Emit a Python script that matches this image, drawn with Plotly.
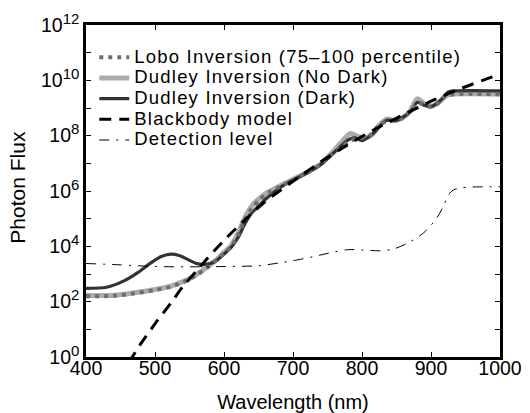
import numpy as np
import plotly.graph_objects as go

# ---- data (log10 of photon flux) ----
lobo_wl = [400, 440, 470, 500, 523, 545, 560, 575, 590, 600, 610, 620, 630, 640, 652, 665, 681,
           710, 739, 755, 768, 780, 790, 800, 812, 826, 835, 845, 858, 870, 882, 890, 900, 912,
           922, 932, 1000]
lobo_log = [2.20, 2.21, 2.30, 2.42, 2.54, 2.75, 2.96, 3.22, 3.52, 3.75, 3.98, 4.40, 4.95, 5.35,
            5.70, 5.95, 6.16, 6.52, 6.94, 7.30, 7.54, 7.76, 7.88, 7.92, 8.02, 8.42, 8.50, 8.55,
            8.62, 8.87, 9.20, 9.12, 9.05, 9.20, 9.45, 9.50, 9.50]

nodark_wl = [400, 440, 470, 500, 523, 545, 560, 575, 590, 600, 610, 620, 630, 640, 648, 660, 681,
             710, 739, 755, 770, 783, 795, 805, 815, 826, 836, 846, 858, 870, 880, 892, 900,
             912, 922, 932, 1000]
nodark_log = [2.22, 2.23, 2.32, 2.44, 2.56, 2.77, 2.98, 3.24, 3.54, 3.78, 4.02, 4.45, 5.02, 5.45,
              5.66, 5.90, 6.18, 6.54, 6.96, 7.34, 7.75, 8.08, 7.96, 7.92, 8.05, 8.40, 8.60, 8.55,
              8.64, 8.90, 9.33, 9.12, 9.06, 9.22, 9.45, 9.50, 9.50]

dark_wl = [400, 430, 455, 475, 495, 510, 523, 535, 548, 560, 570, 580, 590, 600, 610, 620, 630,
           640, 650, 660, 680, 700, 720, 740, 760, 780, 790, 800, 815, 835, 850, 870, 880, 890,
           900, 915, 925, 935, 1000]
dark_log = [2.48, 2.52, 2.75, 3.05, 3.42, 3.64, 3.72, 3.67, 3.52, 3.38, 3.35, 3.38, 3.50, 3.72,
            3.95, 4.30, 4.80, 5.20, 5.45, 5.70, 6.10, 6.40, 6.65, 6.95, 7.40, 7.85, 7.92, 7.82,
            8.05, 8.55, 8.55, 8.85, 9.20, 9.10, 9.05, 9.30, 9.58, 9.62, 9.62]

bb_wl = [462, 480, 500, 523, 542, 560, 576, 603, 630, 659, 700, 740, 778, 820, 866, 905, 945,
         990, 1000]
bb_log = [-0.20, 0.50, 1.20, 1.95, 2.60, 3.10, 3.57, 4.29, 4.95, 5.60, 6.35, 7.05, 7.65, 8.25,
          8.83, 9.30, 9.72, 10.13, 10.20]

det_wl = [400, 450, 500, 550, 600, 650, 680, 700, 730, 760, 780, 800, 826, 845, 865, 889, 908,
          918, 925, 932, 945, 970, 1000]
det_log = [3.38, 3.33, 3.27, 3.26, 3.27, 3.30, 3.40, 3.48, 3.63, 3.80, 3.88, 3.87, 3.84, 3.90,
           4.10, 4.48, 5.01, 5.45, 5.85, 6.03, 6.12, 6.15, 6.15]

x_ticks = [400, 500, 600, 700, 800, 900, 1000]
y_major_exp = [0, 2, 4, 6, 8, 10, 12]
y_minor_exp = [1, 3, 5, 7, 9, 11]

names = {
    "lobo": "Lobo Inversion (75\u2013100 percentile)",
    "nodark": "Dudley Inversion (No Dark)",
    "dark": "Dudley Inversion (Dark)",
    "bb": "Blackbody model",
    "det": "Detection level",
}

FONT = "Liberation Sans, Arial, sans-serif"


def big(s):
    return '<span style="font-size:18.5px;letter-spacing:1.2px">' + s + '</span>'


def pw(v):
    return np.power(10.0, np.array(v, dtype=float))


fig = go.Figure()
fig.add_trace(go.Scatter(x=nodark_wl, y=pw(nodark_log), mode="lines", name=big(names["nodark"]),
                         legendrank=2, line=dict(color="#ababab", width=5, shape="spline", smoothing=0.8)))
fig.add_trace(go.Scatter(x=dark_wl, y=pw(dark_log), mode="lines", name=big(names["dark"]),
                         legendrank=3, line=dict(color="#333333", width=3.2, shape="spline", smoothing=0.8)))
fig.add_trace(go.Scatter(x=lobo_wl, y=pw(lobo_log), mode="lines", name=big(names["lobo"]),
                         legendrank=1, line=dict(color="#6e6e6e", width=4, dash="4px,5px",
                                                 shape="spline", smoothing=0.8)))
fig.add_trace(go.Scatter(x=bb_wl, y=pw(bb_log), mode="lines", name=big(names["bb"]),
                         legendrank=4, line=dict(color="black", width=3, dash="12px,8px",
                                                 shape="spline", smoothing=0.8)))
fig.add_trace(go.Scatter(x=det_wl, y=pw(det_log), mode="lines", name=big(names["det"]),
                         legendrank=5, line=dict(color="black", width=1, dash="10px,7px,2px,7px",
                                                 shape="spline", smoothing=0.8)))

axis_common = dict(
    showline=True, linewidth=2.5, linecolor="black", mirror="ticks",
    ticks="inside", ticklen=5, tickwidth=1, tickcolor="black",
    showgrid=False, zeroline=False, automargin=False,
    tickfont=dict(family=FONT, size=19.5, color="black"),
)

fig.update_layout(
    width=530, height=413,
    margin=dict(l=86, r=30, t=25, b=56),
    paper_bgcolor="white", plot_bgcolor="white",
    font=dict(family=FONT, color="black"),
    showlegend=True,
    legend=dict(x=0.02, y=0.949, xanchor="left", yanchor="top",
                bgcolor="rgba(0,0,0,0)", borderwidth=0,
                font=dict(family=FONT, size=13.6, color="black"),
                itemwidth=30),
    xaxis=dict(range=[400, 1000], tickvals=x_ticks, ticktext=[str(t) for t in x_ticks],
               ticklabelstandoff=-8,
               title=dict(text="Wavelength (nm)", font=dict(family=FONT, size=20), standoff=18),
               **axis_common),
    yaxis=dict(type="log", range=[0, 12],
               tickvals=[10.0 ** e for e in y_major_exp],
               ticktext=['10<sup><span style="font-size:15px">%d</span></sup>' % e for e in y_major_exp],
               minor=dict(tickvals=[10.0 ** e for e in y_minor_exp], ticks="inside",
                          ticklen=5, tickwidth=1, tickcolor="black", showgrid=False),
               **axis_common),
    annotations=[dict(text="Photon Flux", textangle=-90, showarrow=False,
                      xref="paper", yref="paper", x=(18 - 86) / 414, y=0.51,
                      xanchor="center", yanchor="middle",
                      font=dict(family=FONT, size=21, color="black"))],
)

fig.write_html("out.html")
